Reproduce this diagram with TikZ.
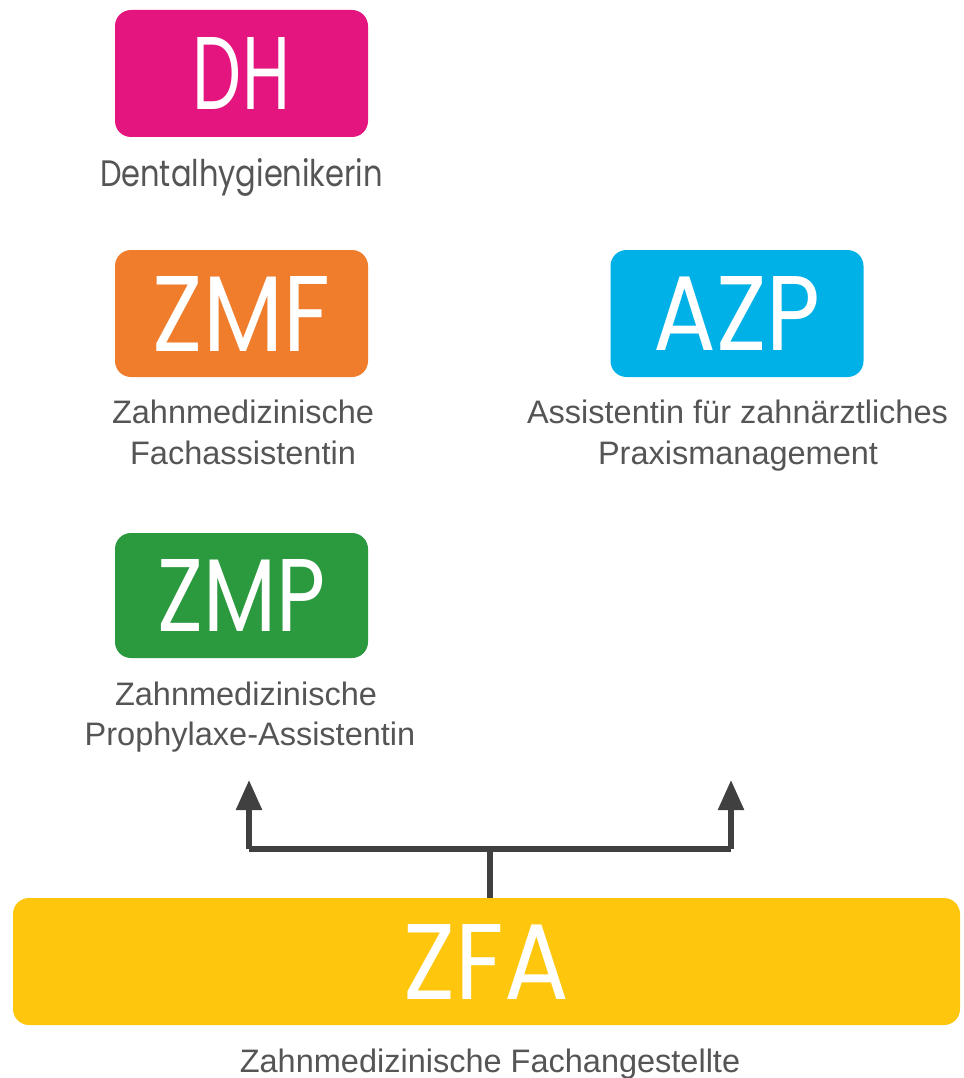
\documentclass[tikz,border=0pt]{standalone}
\usepackage{fontspec}
\setmainfont{Liberation Sans}
\newfontfamily\handfont{Poppins}
\newfontfamily\geofont{Poppins}
\usetikzlibrary{arrows.meta}
\definecolor{dhpink}{HTML}{E5157F}
\definecolor{zmforange}{HTML}{EF7D2C}
\definecolor{azpblue}{HTML}{00B1E7}
\definecolor{zmpgreen}{HTML}{2B9A3F}
\definecolor{zfayellow}{HTML}{FFC60E}
\definecolor{arrowgray}{HTML}{404040}
\definecolor{textgray}{HTML}{555555}
\tikzset{
  badge/.style={rounded corners=16pt, minimum width=253pt, minimum height=127pt,
    inner sep=0pt, text=white, font=\handfont},
  lbl/.style={text=textgray, font=\fontsize{32.5}{40}\selectfont, anchor=base, inner sep=0pt},
  conn/.style={draw=arrowgray, line width=5.5pt, line join=miter},
  tip/.style={-{Triangle[length=30pt,width=25pt]}}
}
\begin{document}
\begin{tikzpicture}[x=1pt,y=-1pt]
\fill[white] (0,0) rectangle (963,1078);
\useasboundingbox (0,0) rectangle (963,1078);

% badges
\node[badge, fill=dhpink] (dh) at (241.5,73.5) {\resizebox{97pt}{72pt}{DH}};
\node[badge, fill=zmforange] (zmf) at (241.5,313.5) {\resizebox{177pt}{75pt}{ZMF}};
\node[badge, fill=azpblue] (azp) at (737,313.5) {\resizebox{167pt}{74pt}{AZP}};
\node[badge, fill=zmpgreen, minimum height=125pt] (zmp) at (241.5,595.5) {\resizebox{168pt}{72pt}{ZMP}};
\node[badge, fill=zfayellow, minimum width=947pt] (zfa) at (486.5,961.5) {\resizebox{165pt}{75pt}{ZFA}};

% captions
\node[lbl, text=textgray] (dhl) at (241.5,186) {\resizebox{283pt}{28pt}{\geofont Dentalhygienikerin}};
\node[lbl] (zmfl1) at (243,423) {Zahnmedizinische};
\node[lbl] (zmfl2) at (243,464) {Fachassistentin};
\node[lbl] (azpl1) at (737.5,423) {Assistentin für zahnärztliches};
\node[lbl] (azpl2) at (738,464) {Praxismanagement};
\node[lbl] (zmpl1) at (246,705) {Zahnmedizinische};
\node[lbl] (zmpl2) at (250,745) {Prophylaxe-Assistentin};
\node[lbl] (zfal) at (490,1072) {Zahnmedizinische Fachangestellte};

% connectors
\coordinate (hub) at (490,849);
\coordinate (lt) at (249,780);
\coordinate (rt) at (731,780);
\draw[conn] (zfa.north -| hub) -- (hub);
\draw[conn, tip] (lt |- hub) -- (lt);
\draw[conn, tip] (rt |- hub) -- (rt);
\draw[conn] (lt |- hub) -- (rt |- hub);
\end{tikzpicture}
\end{document}
